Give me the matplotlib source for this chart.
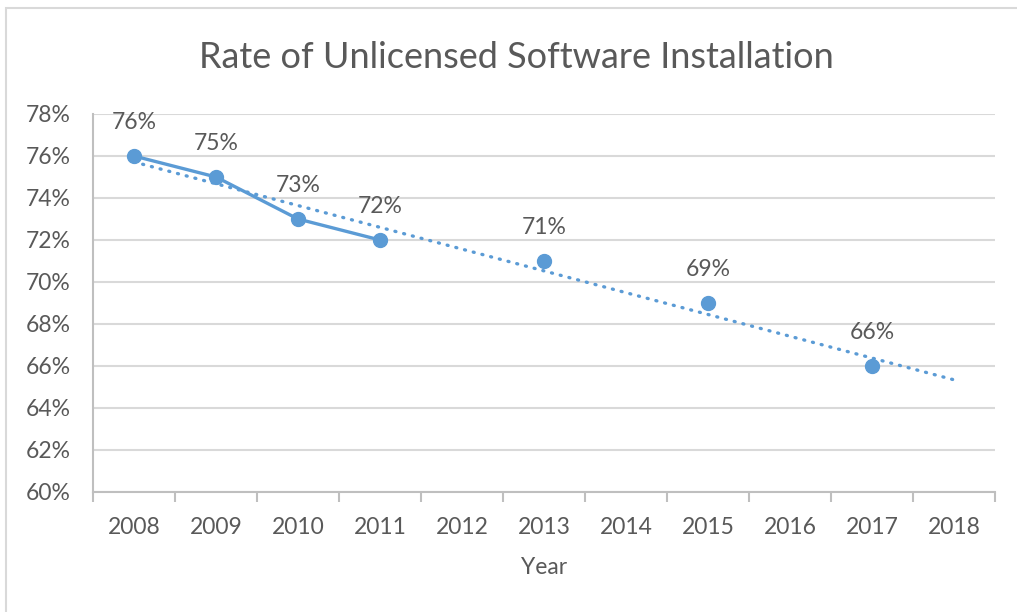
"""
    Rate of unlicensed software installation, Excel-style line chart
"""

from matplotlib import pyplot as plt
from matplotlib.patches import Rectangle
import numpy as np

years = ["2008", "2009", "2010", "2011", "2012", "2013",
         "2014", "2015", "2016", "2017", "2018"]
rate = [76, 75, 73, 72, np.nan, 71, np.nan, 69, np.nan, 66, np.nan]
y_ticks = [60, 62, 64, 66, 68, 70, 72, 74, 76, 78]

BLUE = "#5b9bd5"
TEXT = "#595959"
GRID = "#d9d9d9"
AXIS = "#bfbfbf"

plt.rcParams["font.family"] = ["Lato", "DejaVu Sans"]


def draw_fig():
    fig = plt.figure(figsize=(10.17, 6.12), dpi=100)
    ax = fig.add_axes([93 / 1017, 1 - 492 / 612, (995 - 93) / 1017, (492 - 114) / 612])

    x = np.arange(len(years))
    y = np.array(rate, dtype=float)

    # linear trendline over the non-empty cells (excel style)
    ok = ~np.isnan(y)
    coeff = np.polyfit(x[ok], y[ok], 1)
    trend = np.poly1d(coeff)
    ax.plot(x, trend(x), linestyle=(0, (0.3, 2.4)), color=BLUE, lw=2.4,
            dash_capstyle="round", zorder=3)

    ax.plot(x, y, "-o", color=BLUE, lw=2.4, markersize=10, zorder=4)

    for xi, yi in zip(x[ok], y[ok]):
        ax.annotate(f"{yi:.0f}%", (xi, yi), xytext=(0, 24), textcoords="offset points",
                    ha="center", va="center", fontsize=16.5, color=TEXT)

    ax.set_xlim(-0.5, len(years) - 0.5)
    ax.set_ylim(60, 78)
    ax.set_yticks(y_ticks)
    ax.set_yticklabels([f"{v}%" for v in y_ticks])
    ax.set_xticks(x)
    ax.set_xticklabels(years)
    ax.set_xticks(np.arange(len(years) + 1) - 0.5, minor=True)

    ax.tick_params(axis="y", length=0, pad=16, labelsize=16.5, labelcolor=TEXT)
    ax.tick_params(axis="x", which="major", length=0, pad=18, labelsize=16.5, labelcolor=TEXT)
    ax.tick_params(axis="x", which="minor", length=7, width=1.5, color=AXIS, direction="out")

    ax.grid(axis="y", color=GRID, lw=1.5)
    ax.set_axisbelow(True)
    for side in ("top", "right"):
        ax.spines[side].set_visible(False)
    ax.spines["left"].set_color(AXIS)
    ax.spines["bottom"].set_color(AXIS)
    ax.spines["left"].set_linewidth(1.5)
    ax.spines["bottom"].set_linewidth(1.5)

    ax.set_xlabel("Year", fontsize=16.5, color=TEXT, labelpad=14)
    fig.text(516 / 1017, 1 - 57 / 612, "Rate of Unlicensed Software Installation",
             ha="center", va="center", fontsize=26, color=TEXT)

    # chart area border
    fig.patches.append(Rectangle((6 / 1017, -0.1), 1.2, 1 - 8 / 612 + 0.1,
                                 transform=fig.transFigure, fill=False,
                                 edgecolor=GRID, lw=1.5))

    plt.savefig("out.png", dpi=100)


if __name__ == "__main__":
    draw_fig()
